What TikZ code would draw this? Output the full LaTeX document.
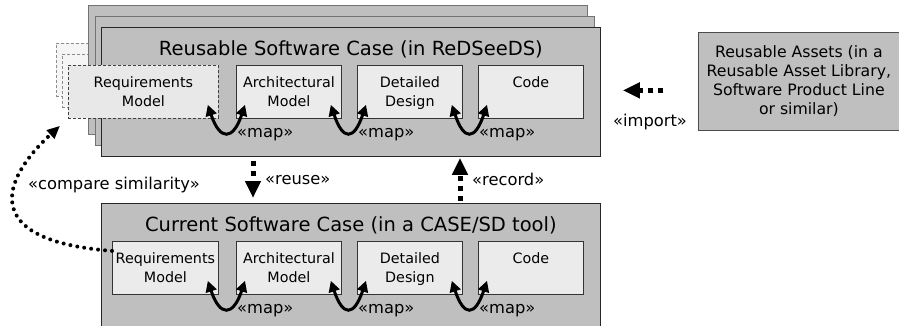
\documentclass[tikz,border=0pt]{standalone}
\usepackage{fontspec}
\setmainfont{DejaVu Sans}
\usetikzlibrary{arrows.meta,calc}

\begin{document}
\begin{tikzpicture}[x=1pt,y=-1pt]
	\tikzset{cas/.style={draw=black!85, fill=black!25, line width=0.8pt, anchor=north west, minimum width=499pt, minimum height=129pt, inner sep=0pt, text height=28pt, text depth=101pt, font=\fontsize{19.5}{22}\selectfont},
	casfond/.style={cas, draw=black!55, line width=1.2pt},
	boite/.style={draw=black!80, fill=black!8, line width=0.8pt, anchor=north west, minimum width=105pt, minimum height=53pt, inner sep=0pt, text height=41pt, text depth=12pt, align=center, font=\fontsize{14.3}{19}\selectfont},
	unligne/.style={text height=22pt, text depth=31pt},
	reqfond/.style={boite, minimum width=150pt, draw=black!45, fill=black!4, densely dashed},
	reqpointille/.style={boite, minimum width=150pt, draw=black!75, fill=black!9, densely dashed},
	etiq/.style={inner sep=0pt, font=\fontsize{16.3}{19}\selectfont},
	carte/.style={>={Triangle[length=11pt,width=11pt]}, <->, line width=3pt},
	fleche/.style={>={Triangle[length=17pt,width=15pt]}, ->, line width=5pt, dash pattern=on 5pt off 5pt},
	comparaison/.style={>={Triangle[length=13pt,width=11pt]}, ->, line width=4pt, line cap=round, dash pattern=on 0pt off 7pt}};

	\useasboundingbox (0,0) rectangle (899,326);

	% modeles caches derriere la pile
	\node[reqfond] (rfond1) at (56,43) {Requirements\\Model};
	\node[reqfond] (rfond2) at (62,54) {Requirements\\Model};

	% pile des cas reutilisables
	\node[casfond] (fond1) at (88,5) {Reusable Software Case (in ReDSeeDS)};
	\node[casfond] (fond2) at (94.5,16) {Reusable Software Case (in ReDSeeDS)};
	\node[cas] (rcase) at (101,27) {Reusable Software Case (in ReDSeeDS)};

	\node[cas] (ccase) at (101,203) {Current Software Case (in a CASE/SD tool)};

	\node[reqpointille] (r1) at (68,65) {Requirements\\Model};
	\node[boite, minimum width=106pt] (c1) at (112,241) {Requirements\\Model};

	\foreach \i/\x/\texte/\style in {2/236/{Architectural\\Model}/boite, 3/357/{Detailed\\Design}/boite, 4/478/Code/unligne}{
		\node[boite, \style] (r\i) at (\x,65) {\texte};
		\node[boite, \style] (c\i) at (\x,241) {\texte};
	}

	\foreach \l in {r,c}{
		\foreach \a/\b in {1/2, 2/3, 3/4}{
			\draw[carte] ($(\l\a.south east)+(-11,-14)$) .. controls +(12,36) and +(-12,36) .. ($(\l\b.south west)+(9,-14)$);
			\node[etiq, anchor=west] (m\l\b) at ($(\l\b.south west)+(1,16)$) {«map»};
		}
	}

	\node[draw=black!70, fill=black!25, line width=0.8pt, anchor=north west, minimum width=201pt, minimum height=98pt, align=center, inner sep=0pt, font=\fontsize{15.7}{19}\selectfont] (assets) at (698,32) {Reusable Assets (in a\\Reusable Asset Library,\\Software Product Line\\or similar)};

	\draw[fleche, shorten <=35pt, shorten >=22pt] ([yshift=-9pt]assets.west) -- ([yshift=-9pt]assets.west -| rcase.east);
	\node[etiq] (limport) at (650,122) {«import»};

	\draw[fleche, shorten <=4pt, shorten >=5pt] ([xshift=152pt]rcase.south west) -- ([xshift=152pt]ccase.north west);
	\node[etiq, anchor=west] (lreuse) at (265,180) {«reuse»};

	\draw[fleche, shorten <=2pt, shorten >=1pt] ([xshift=359pt]ccase.north west) -- ([xshift=359pt]rcase.south west);
	\node[etiq, anchor=west] (lrecord) at (472,179) {«record»};

	\draw[comparaison] ([yshift=17pt]c1.west) .. controls +(-132,-10) and +(-60,55) .. ([xshift=-8pt,yshift=-7pt]r1.south west);
	\node[etiq, anchor=west] (lcompare) at (28,185) {«compare similarity»};

\end{tikzpicture}
\end{document}
